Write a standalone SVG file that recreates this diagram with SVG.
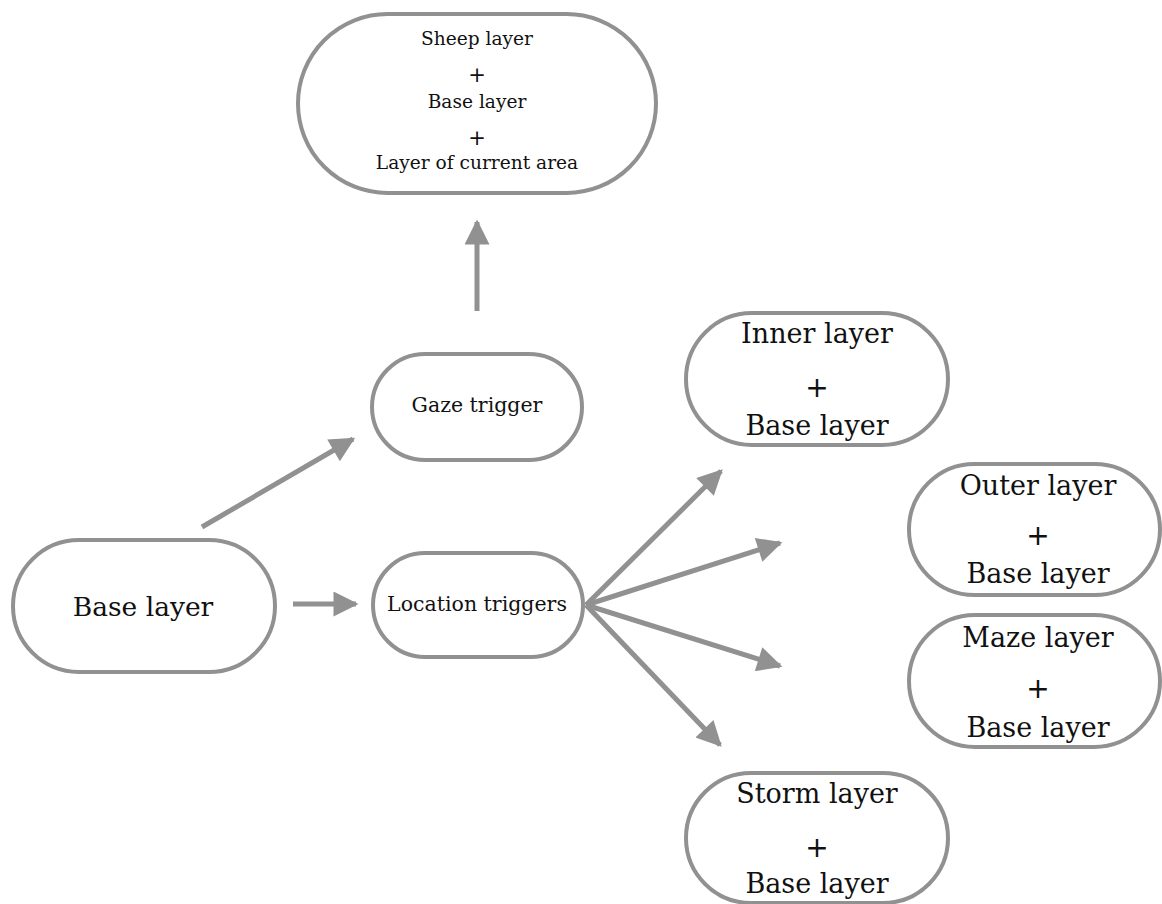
<svg xmlns="http://www.w3.org/2000/svg" width="1162" height="904" viewBox="0 0 1162 904">
  <style>
    .box { fill: #ffffff; stroke: #919191; stroke-width: 4; }
    .lbl { font-family: "DejaVu Serif", "Liberation Serif", serif; fill: #111111; text-anchor: middle; }
    .plus { font-family: "DejaVu Sans", "Liberation Sans", sans-serif; fill: #111111; text-anchor: middle; }
    .edge { stroke: #919191; stroke-width: 5; fill: none; marker-end: url(#head); }
  </style>
  <defs>
    <marker id="head" viewBox="0 0 10 10" refX="9" refY="5" markerWidth="5.6" markerHeight="5" orient="auto" markerUnits="strokeWidth">
      <path d="M0,0 L10,5 L0,10 Z" fill="#919191"/>
    </marker>
  </defs>

  <rect width="1162" height="904" fill="#ffffff"/>

  <g id="connectors">
    <line class="edge" x1="477" y1="311" x2="477" y2="222"/>
    <line class="edge" x1="202" y1="527" x2="353" y2="439"/>
    <line class="edge" x1="293" y1="604" x2="356" y2="604"/>
    <line class="edge" x1="586" y1="605" x2="721" y2="471"/>
    <line class="edge" x1="586" y1="605" x2="780" y2="543"/>
    <line class="edge" x1="586" y1="605" x2="780" y2="666"/>
    <line class="edge" x1="586" y1="605" x2="720" y2="745"/>
  </g>

  <g id="combined">
    <rect class="box" x="298" y="14" width="358" height="179" rx="89.5"/>
    <text class="lbl" x="477" y="45" font-size="18.6">Sheep layer</text>
    <text class="plus" x="477" y="82" font-size="21">+</text>
    <text class="lbl" x="477" y="108" font-size="18.6">Base layer</text>
    <text class="plus" x="477" y="145" font-size="21">+</text>
    <text class="lbl" x="477" y="169" font-size="18.6">Layer of current area</text>
  </g>

  <g id="gaze">
    <rect class="box" x="372" y="354" width="210" height="106" rx="53"/>
    <text class="lbl" x="477" y="412" font-size="20.5">Gaze trigger</text>
  </g>

  <g id="base">
    <rect class="box" x="13" y="540" width="262" height="132" rx="66"/>
    <text class="lbl" x="143" y="616" font-size="26.5">Base layer</text>
  </g>

  <g id="location">
    <rect class="box" x="373" y="553" width="210" height="104" rx="52"/>
    <text class="lbl" x="477" y="611" font-size="20.5">Location triggers</text>
  </g>

  <g id="inner">
    <rect class="box" x="686" y="313" width="262" height="132" rx="66"/>
    <text class="lbl" x="817" y="343" font-size="27">Inner layer</text>
    <text class="plus" x="817" y="397" font-size="28">+</text>
    <text class="lbl" x="817" y="435" font-size="27">Base layer</text>
  </g>

  <g id="outer">
    <rect class="box" x="909" y="464" width="251" height="131" rx="65.5"/>
    <text class="lbl" x="1038" y="495" font-size="27">Outer layer</text>
    <text class="plus" x="1038" y="545" font-size="28">+</text>
    <text class="lbl" x="1038" y="583" font-size="27">Base layer</text>
  </g>

  <g id="maze">
    <rect class="box" x="909" y="615" width="251" height="132" rx="66"/>
    <text class="lbl" x="1038" y="647" font-size="27">Maze layer</text>
    <text class="plus" x="1038" y="698" font-size="28">+</text>
    <text class="lbl" x="1038" y="737" font-size="27">Base layer</text>
  </g>

  <g id="storm">
    <rect class="box" x="686" y="773" width="262" height="130" rx="65"/>
    <text class="lbl" x="817" y="803" font-size="27">Storm layer</text>
    <text class="plus" x="817" y="857" font-size="28">+</text>
    <text class="lbl" x="817" y="893" font-size="27">Base layer</text>
  </g>
</svg>
